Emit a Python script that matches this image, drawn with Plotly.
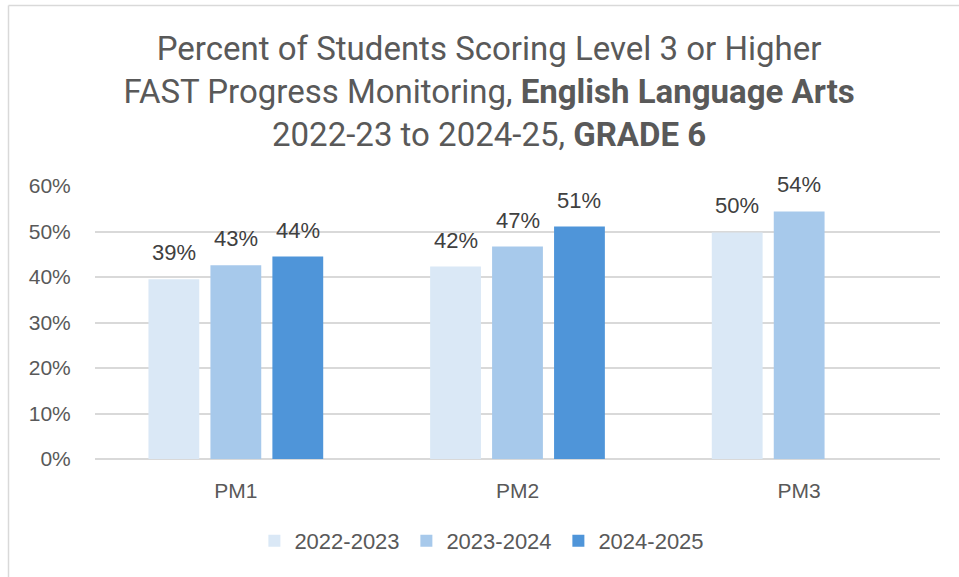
import plotly.graph_objects as go

categories = ["PM1", "PM2", "PM3"]
series_names = ["2022-2023", "2023-2024", "2024-2025"]
values_2223 = [39.5, 42.3, 49.8]
values_2324 = [42.6, 46.7, 54.4]
values_2425 = [44.5, 51.1, None]
labels_2223 = ["39%", "42%", "50%"]
labels_2324 = ["43%", "47%", "54%"]
labels_2425 = ["44%", "51%", None]
colors = ["#DAE8F6", "#A7C9EB", "#4F95D9"]
y_ticks = [0, 10, 20, 30, 40, 50, 60]
y_tick_labels = [f"{v}%" for v in y_ticks]

W, H = 959, 577
ML, MR, MT, MB = 95, 19, 186, 118
BARGAP = 0.34
BARGROUPGAP = 0.18
ARIAL = "Liberation Sans, Arial, sans-serif"

series_values = [values_2223, values_2324, values_2425]
series_labels = [labels_2223, labels_2324, labels_2425]

fig = go.Figure()
for name, vals, col in zip(series_names, series_values, colors):
    fig.add_trace(go.Bar(
        x=categories, y=vals, name=name,
        marker=dict(color=col, line=dict(width=0)),
        hoverinfo="skip",
    ))

plot_w = W - ML - MR
plot_h = H - MT - MB
slot = plot_w / len(categories) * (1 - BARGAP) / len(series_names)
for i, (vals, labs) in enumerate(zip(series_values, series_labels)):
    for c, v, t in zip(categories, vals, labs):
        if v is None:
            continue
        fig.add_annotation(
            x=c, y=v, text=t, showarrow=False,
            xshift=(i - 1) * slot, yshift=12, yanchor="bottom",
            font=dict(family=ARIAL, size=22, color="#404040"),
        )

title_text = ("Percent of Students Scoring Level 3 or Higher<br>"
              "FAST Progress Monitoring, <b>English Language Arts</b><br>"
              "2022-23 to 2024-25, <b>GRADE 6</b>")

# chart area border (top and left edges visible)
fig.add_shape(type="line", xref="paper", yref="paper", xsizemode="pixel", ysizemode="pixel",
              xanchor=0, yanchor=0, x0=-ML + 8.5, x1=W, y0=plot_h + MT - 5.5, y1=plot_h + MT - 5.5,
              line=dict(color="#D9D9D9", width=1.5))
fig.add_shape(type="line", xref="paper", yref="paper", xsizemode="pixel", ysizemode="pixel",
              xanchor=0, yanchor=0, x0=-ML + 8.5, x1=-ML + 8.5, y0=-MB, y1=plot_h + MT - 5.5,
              line=dict(color="#D9D9D9", width=1.5))

fig.update_layout(
    width=W, height=H,
    margin=dict(l=ML, r=MR, t=MT, b=MB),
    paper_bgcolor="white", plot_bgcolor="white",
    barmode="group", bargap=BARGAP, bargroupgap=BARGROUPGAP,
    title=dict(text=title_text, xref="container", yref="container",
               x=0.51, y=1 - 60 / H, xanchor="center", yanchor="middle",
               font=dict(family="Roboto, sans-serif", size=33, color="#595959")),
    showlegend=True,
    legend=dict(orientation="h", xref="container", yref="container",
                x=0.503, y=1 - 541 / H, xanchor="center", yanchor="middle",
                entrywidth=107, entrywidthmode="pixels",
                font=dict(family=ARIAL, size=22, color="#595959"),
                itemclick=False, itemdoubleclick=False),
    xaxis=dict(showgrid=False, showline=False, ticks="outside", ticklen=13,
               tickcolor="rgba(0,0,0,0)",
               tickfont=dict(family=ARIAL, size=21, color="#595959")),
    yaxis=dict(range=[0, 60], tickvals=y_ticks, ticktext=y_tick_labels,
               showgrid=True, gridcolor="#D9D9D9", gridwidth=1.5,
               zeroline=True, zerolinecolor="#D9D9D9", zerolinewidth=1.5,
               showline=False, ticks="outside", ticklen=19, tickcolor="rgba(0,0,0,0)",
               tickfont=dict(family=ARIAL, size=21, color="#595959")),
    font=dict(family=ARIAL),
)

fig.write_html("out.html", config={"displayModeBar": False},
               post_script="document.body.style.margin='0';")
